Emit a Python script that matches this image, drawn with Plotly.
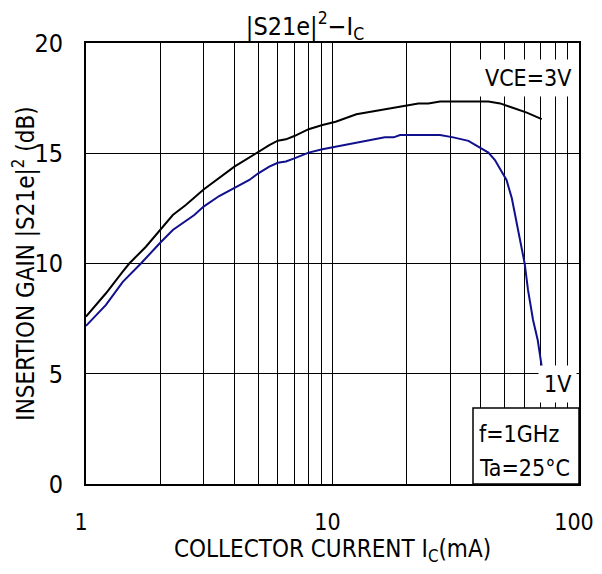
import plotly.graph_objects as go

# Collector current (mA) and insertion gain (dB)
ic_3v = [1.0, 1.205, 1.409, 1.498, 1.75, 2.0, 2.25, 2.54, 3.0, 4.0, 5.0, 5.54, 6.0, 6.47, 7.0, 8.0, 9.1, 10.3,
         12.5, 15.1, 17.7, 19.0, 22.3, 24.5, 27.3, 34.0, 42.9, 47.9, 52.6, 61.4, 70.6]
gain_3v = [7.59, 8.65, 9.63, 10.0, 10.76, 11.55, 12.2, 12.65, 13.36, 14.39, 15.07, 15.37, 15.57, 15.63, 15.78,
           16.09, 16.28, 16.43, 16.77, 16.93, 17.08, 17.11, 17.26, 17.26, 17.35, 17.35, 17.35, 17.26, 17.11,
           16.84, 16.55]

ic_1v = [1.0, 1.205, 1.41, 1.67, 2.0, 2.25, 2.75, 3.0, 3.47, 4.0, 4.6, 5.0, 5.54, 6.0, 6.47, 7.0, 8.0, 9.1,
         10.3, 11.7, 14.1, 16.3, 17.7, 18.8, 27.3, 30.9, 35.6, 40.5, 42.9, 45.6, 50.8, 53.4, 56.6, 60.2,
         62.1, 65.1, 68.0, 70.6]
gain_1v = [7.17, 8.12, 9.17, 10.0, 10.94, 11.52, 12.2, 12.58, 13.06, 13.41, 13.79, 14.09, 14.39, 14.57, 14.63,
           14.77, 15.03, 15.18, 15.3, 15.42, 15.6, 15.72, 15.72, 15.83, 15.83, 15.72, 15.56, 15.22, 15.03,
           14.69, 13.79, 12.96, 11.52, 10.0, 8.8, 7.44, 6.53, 5.32]

x_major = [1, 10, 100]
x_major_text = ["1", "10", "100"]
x_minor = [m * d for d in (1, 10) for m in range(2, 10)]
y_ticks = [0, 5, 10, 15, 20]

FONT = "DejaVu Sans Condensed, Liberation Sans Narrow, sans-serif"

fig = go.Figure()
fig.add_trace(go.Scatter(x=ic_3v, y=gain_3v, mode="lines", line=dict(color="#000000", width=2),
                         showlegend=False, hoverinfo="skip"))
fig.add_trace(go.Scatter(x=ic_1v, y=gain_1v, mode="lines", line=dict(color="#10108c", width=2),
                         showlegend=False, hoverinfo="skip"))

fig.update_layout(
    width=594, height=558,
    margin=dict(l=78, r=23, t=35, b=82, autoexpand=False),
    paper_bgcolor="white", plot_bgcolor="white",
    font=dict(family=FONT, size=24, color="#000000"),
    title=dict(text="|S21e|<sup>2</sup>−I<sub>C</sub>", x=(305 - 86) / 493, xref="paper", xanchor="center",
               y=1 - 18 / 558, yref="container", yanchor="middle", font=dict(size=25)),
    xaxis=dict(type="log", range=[0, 2], tickvals=x_major, ticktext=x_major_text, automargin=False,
               showgrid=True, gridcolor="#000000", gridwidth=1,
               minor=dict(tickvals=x_minor, showgrid=True, gridcolor="#000000", gridwidth=1),
               showline=True, linecolor="#000000", linewidth=2, mirror=True, ticks="",
               ticklabelstandoff=16, ticklabelshift=-5, zeroline=False, tickfont=dict(size=23),
               title=dict(text="COLLECTOR CURRENT I<sub>C</sub>(mA)", standoff=2, font=dict(size=24))),
    yaxis=dict(range=[0, 20], tickvals=y_ticks, showgrid=True, gridcolor="#000000", gridwidth=1,
               automargin=False,
               showline=True, linecolor="#000000", linewidth=2, mirror=True, ticks="",
               ticklabelstandoff=16, zeroline=False, tickfont=dict(size=25),
               title=dict(text="INSERTION GAIN |S21e|<sup>2</sup> (dB)", standoff=2, font=dict(size=24))),
)

fig.add_annotation(x=1.0, xref="paper", xanchor="right", xshift=-2, y=(484 - 78) / 441, yref="paper",
                   yanchor="middle", text="VCE=3V", showarrow=False, bgcolor="white", borderpad=5,
                   font=dict(size=23))

fig.add_annotation(x=1.0, xref="paper", xanchor="right", xshift=-2, y=(484 - 384) / 441, yref="paper",
                   yanchor="middle", text="1V", showarrow=False, bgcolor="white", borderpad=5,
                   font=dict(size=23))

fig.add_shape(type="rect", xref="paper", yref="paper", x0=(473 - 86) / 493, x1=1.0, y0=0.0,
              y1=(484 - 408) / 441, fillcolor="white", line=dict(color="#000000", width=1.5), layer="above")
fig.add_annotation(x=(477 - 86) / 493, xref="paper", xanchor="left", y=(484 - 434) / 441, yref="paper",
                   yanchor="middle", text="f=1GHz", showarrow=False, font=dict(size=23))
fig.add_annotation(x=(477 - 86) / 493, xref="paper", xanchor="left", y=(484 - 468) / 441, yref="paper",
                   yanchor="middle", text="Ta=25°C", showarrow=False, font=dict(size=23))

fig.write_html("out.html")
